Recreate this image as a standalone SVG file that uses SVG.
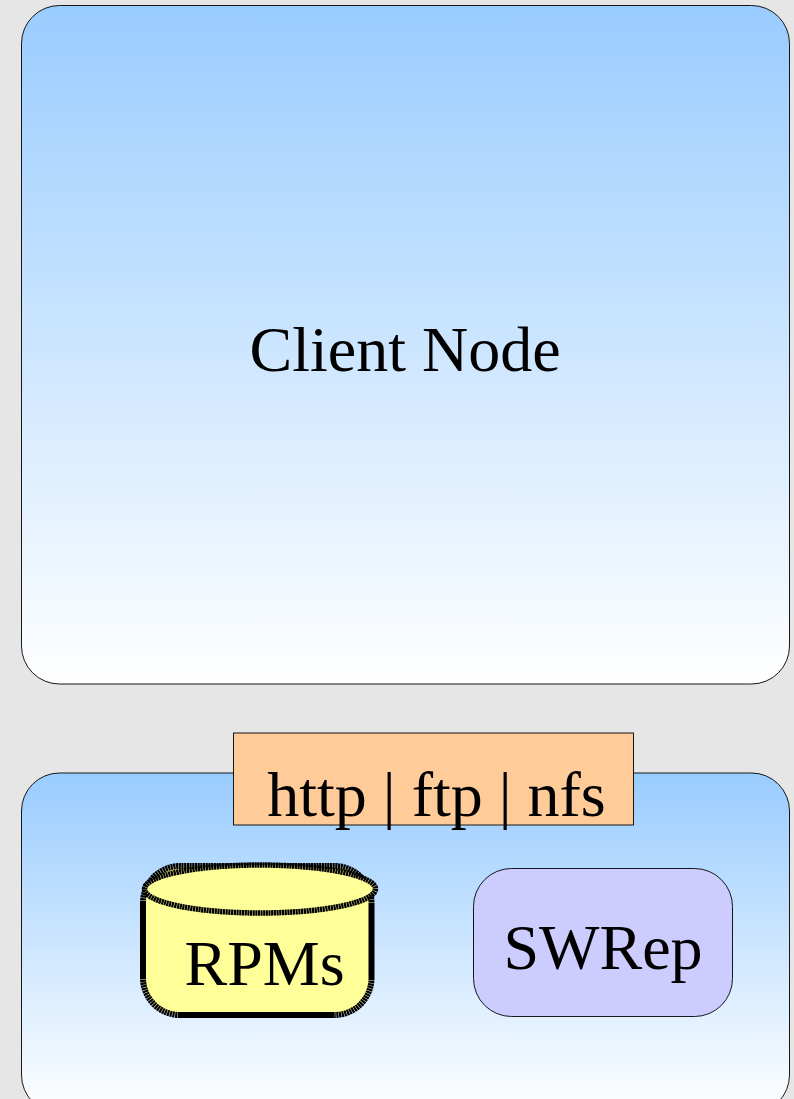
<svg xmlns="http://www.w3.org/2000/svg" width="794" height="1099" viewBox="0 0 794 1099">
<style>
text{font-family:"Liberation Serif","Times New Roman",serif;fill:#000;font-size:64px;text-anchor:middle}
.panel{stroke:#000;stroke-width:.9}
.db{fill:#ffff99}
.edge{fill:none;stroke:#000;stroke-width:6}
.hatch{fill:none;stroke:#000;stroke-width:6;stroke-dasharray:2.2 .5}
</style>
<defs>
<linearGradient id="g" x1="0" y1="0" x2="0" y2="1"><stop offset="0" stop-color="#99ccff"/><stop offset="1" stop-color="#ffffff"/></linearGradient>
</defs>
<rect width="794" height="1099" fill="#e6e6e6"/>
<g id="client-node">
<rect class="panel" x="21.5" y="5.5" width="768" height="678.500" rx="38" fill="url(#g)"/>
<text x="405" y="371">Client Node</text>
</g>
<g id="server">
<rect class="panel" x="21.5" y="773" width="768" height="340" rx="38" fill="url(#g)"/>
</g>
<g id="protocols">
<rect x="233.500" y="733" width="400" height="92" fill="#ffcc99" stroke="#000" stroke-width=".9"/>
<text x="436.500" y="816">http | ftp | nfs</text>
</g>
<g id="rpms">
<rect class="db" x="143" y="866" width="228.500" height="149" rx="37"/>
<path class="edge" d="M143 903V978M371.500 903V978M180 1015H334.500"/>
<path class="hatch" d="M143 903A37 37 0 0 1 180 866H334.500A37 37 0 0 1 371.500 903M371.500 978A37 37 0 0 1 334.500 1015M180 1015A37 37 0 0 1 143 978"/>
<ellipse class="db" cx="260" cy="889" rx="115.500" ry="24" stroke="#000" stroke-width="5.500" stroke-dasharray="2.200 .5"/>
<text x="264.500" y="985">RPMs</text>
</g>
<g id="swrep">
<rect x="473.500" y="868.500" width="259" height="148" rx="38" fill="#ccccff" stroke="#000" stroke-width=".9"/>
<text x="603" y="969">SWRep</text>
</g>
<g id="connectors"/>
</svg>
